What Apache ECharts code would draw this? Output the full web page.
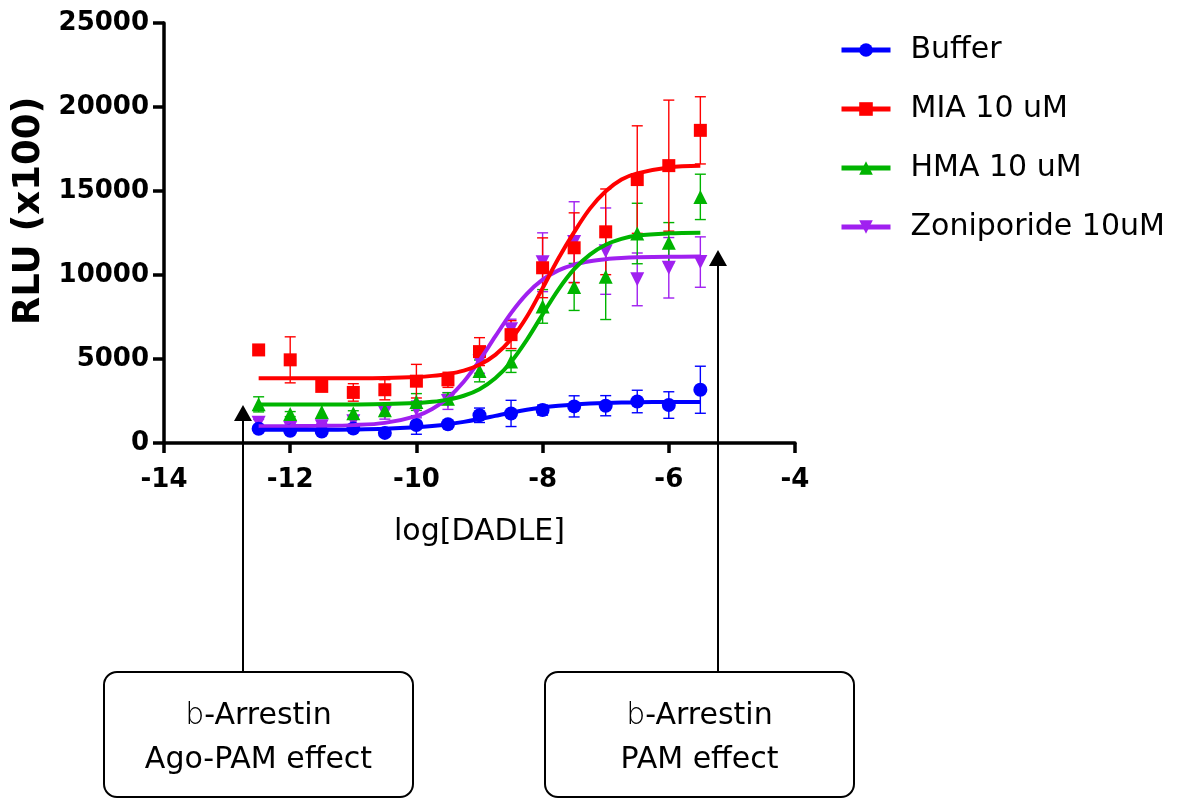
<!DOCTYPE html>
<html>
<head>
<meta charset="utf-8">
<script src="https://cdn.jsdelivr.net/npm/echarts@6/dist/echarts.min.js"></script>
<style>
  html, body { margin: 0; padding: 0; background: #ffffff; }
  #chart { width: 1177px; height: 804px; }
</style>
</head>
<body>
<div id="chart"></div>
<script>
// log[DADLE] doses (M) at which responses were measured
const logDose = [-12.5, -12, -11.5, -11, -10.5, -10, -9.5, -9, -8.5, -8, -7.5, -7, -6.5, -6, -5.5];

// Mean RLU (x100) and SEM per condition
const bufferMean = [850, 730, 680, 860, 600, 1070, 1120, 1650, 1760, 1960, 2180, 2220, 2470, 2260, 3170];
const bufferSem  = [120, 100, 100, 120, 100, 550, 150, 430, 780, 300, 630, 600, 670, 790, 1400];
const miaMean    = [5540, 4950, 3370, 3010, 3170, 3680, 3760, 5440, 6450, 10430, 11620, 12570, 15680, 16510, 18610];
const miaSem     = [150, 1370, 250, 520, 600, 1000, 450, 830, 830, 1780, 2080, 2550, 3200, 3900, 2000];
const hmaMean    = [2300, 1720, 1850, 1770, 1950, 2440, 2640, 4290, 4850, 8130, 9290, 9900, 12470, 11920, 14650];
const hmaSem     = [450, 150, 400, 150, 300, 500, 350, 650, 650, 1000, 1400, 2550, 1800, 1200, 1350];
const zoniMean   = [1200, 900, 1000, 1300, 1820, 2000, 2500, 4850, 6770, 10760, 11960, 11420, 9740, 10430, 10770];
const zoniSem    = [200, 150, 150, 200, 400, 500, 500, 700, 600, 1750, 2400, 2570, 1570, 1800, 1500];

// Dose-response fit curves, sampled along the dose axis
const fitDose   = [-12.5, -12, -11.5, -11, -10.5, -10, -9.75, -9.5, -9.25, -9, -8.75, -8.5, -8.25, -8, -7.75, -7.5, -7.25, -7, -6.75, -6.5, -6, -5.5];
const bufferFit = [782, 784, 790, 806, 844, 932, 1009, 1115, 1256, 1426, 1615, 1804, 1974, 2115, 2222, 2298, 2351, 2386, 2409, 2424, 2440, 2445];
const miaFit    = [3850, 3850, 3851, 3855, 3875, 3931, 3995, 4110, 4312, 4662, 5248, 6171, 7511, 9218, 10980, 12550, 13950, 14980, 15680, 16050, 16400, 16500];
const hmaFit    = [2290, 2290, 2291, 2296, 2317, 2379, 2451, 2582, 2812, 3204, 3851, 4825, 6140, 7657, 9135, 10347, 11210, 11800, 12150, 12350, 12480, 12520];
const zoniFit   = [1000, 1006, 1020, 1064, 1198, 1601, 2019, 2680, 3645, 4907, 6341, 7733, 8878, 9720, 10274, 10619, 10823, 10942, 11011, 11050, 11084, 11095];

// Axis ticks
const xTicks = { min: -14, max: -4, interval: 2 };
const yTicks = { min: 0, max: 25000, interval: 5000 };

const seriesNames = ['Buffer', 'MIA 10 uM', 'HMA 10 uM', 'Zoniporide 10uM'];
const FONT = 'DejaVu Sans';
const DOWN_TRIANGLE = 'path://M0,0 L10,0 L5,9 Z';

const groups = [
  { name: seriesNames[0], color: '#0000FF', symbol: 'circle', size: 14, mean: bufferMean, sem: bufferSem, fit: bufferFit },
  { name: seriesNames[1], color: '#FF0000', symbol: 'rect', size: 13, mean: miaMean, sem: miaSem, fit: miaFit },
  { name: seriesNames[2], color: '#00B400', symbol: 'triangle', size: 14, mean: hmaMean, sem: hmaSem, fit: hmaFit },
  { name: seriesNames[3], color: '#A020F0', symbol: DOWN_TRIANGLE, size: 14, mean: zoniMean, sem: zoniSem, fit: zoniFit }
];

function errorBarRenderer(color) {
  return function (params, api) {
    const x = api.value(0);
    const top = api.coord([x, api.value(2)]);
    const bot = api.coord([x, api.value(1)]);
    const hw = 5.5;
    const style = { stroke: color, lineWidth: 1.4 };
    return {
      type: 'group',
      children: [
        { type: 'line', shape: { x1: top[0], y1: top[1], x2: bot[0], y2: bot[1] }, style: style },
        { type: 'line', shape: { x1: top[0] - hw, y1: top[1], x2: top[0] + hw, y2: top[1] }, style: style },
        { type: 'line', shape: { x1: bot[0] - hw, y1: bot[1], x2: bot[0] + hw, y2: bot[1] }, style: style }
      ]
    };
  };
}

// Draw the first condition on top: build series from last to first
const series = [];
groups.slice().reverse().forEach(function (g) {
  series.push({
    name: g.name,
    type: 'line',
    data: fitDose.map(function (d, i) { return [d, g.fit[i]]; }),
    smooth: 0.35,
    symbol: g.symbol,
    symbolSize: g.size,
    showSymbol: false,
    itemStyle: { color: g.color },
    lineStyle: { color: g.color, width: 4 },
    emphasis: { disabled: true },
    silent: true,
    animation: false
  });
  series.push({
    name: g.name,
    type: 'custom',
    renderItem: errorBarRenderer(g.color),
    data: logDose.map(function (d, i) { return [d, g.mean[i] - g.sem[i], g.mean[i] + g.sem[i]]; }),
    encode: { x: 0, y: [1, 2] },
    silent: true,
    animation: false
  });
  series.push({
    name: g.name,
    type: 'scatter',
    data: logDose.map(function (d, i) { return [d, g.mean[i]]; }),
    symbol: g.symbol,
    symbolSize: g.size,
    itemStyle: { color: g.color, opacity: 1 },
    emphasis: { disabled: true },
    silent: true,
    animation: false
  });
});

// Callout boxes with arrows below the plot
function calloutBox(left, top, width, height, lines) {
  return {
    type: 'group',
    children: [
      { type: 'rect', shape: { x: left, y: top, width: width, height: height, r: 13 },
        style: { fill: '#ffffff', stroke: '#000000', lineWidth: 2 } },
      { type: 'text', x: left + width / 2, y: top + 44,
        style: { text: '{thin|b}-Arrestin', align: 'center', verticalAlign: 'middle',
          font: '30px "' + FONT + '"', fill: '#000000',
          rich: { thin: { fontFamily: FONT, fontSize: 30, fontWeight: 200, fill: '#000000' } } } },
      { type: 'text', x: left + width / 2, y: top + 88,
        style: { text: lines, align: 'center', verticalAlign: 'middle',
          font: '30px "' + FONT + '"', fill: '#000000' } }
    ]
  };
}
function upArrow(x, yBottom, yTip) {
  return {
    type: 'group',
    children: [
      { type: 'line', shape: { x1: x, y1: yBottom, x2: x, y2: yTip + 14 },
        style: { stroke: '#000000', lineWidth: 2 } },
      { type: 'polygon', shape: { points: [[x, yTip], [x - 9, yTip + 16], [x + 9, yTip + 16]] },
        style: { fill: '#000000' } }
    ]
  };
}

const chart = echarts.init(document.getElementById('chart'), null, { renderer: 'canvas' });
chart.setOption({
  animation: false,
  backgroundColor: '#ffffff',
  textStyle: { fontFamily: FONT },
  grid: { left: 164, right: 382, top: 23, bottom: 361, containLabel: false, outerBoundsMode: 'none' },
  legend: {
    data: seriesNames,
    orient: 'vertical',
    left: 839,
    top: 35,
    padding: 0,
    itemWidth: 49,
    itemHeight: 17,
    itemGap: 29,
    selectedMode: false,
    lineStyle: { width: 5 },
    textStyle: { fontFamily: FONT, fontSize: 30, color: '#000000', lineHeight: 30, padding: [0, 0, 0, 15] }
  },
  xAxis: {
    type: 'value',
    min: xTicks.min,
    max: xTicks.max,
    interval: xTicks.interval,
    name: 'log[DADLE]',
    nameLocation: 'middle',
    nameGap: 74,
    nameTextStyle: { fontFamily: FONT, fontSize: 30, color: '#000000' },
    axisLine: { lineStyle: { color: '#000000', width: 3.5 } },
    axisTick: { show: true, inside: false, length: 10, lineStyle: { color: '#000000', width: 3.5 } },
    axisLabel: { fontFamily: FONT, fontWeight: 'bold', fontSize: 26, color: '#000000', margin: 24 },
    splitLine: { show: false }
  },
  yAxis: {
    type: 'value',
    min: yTicks.min,
    max: yTicks.max,
    interval: yTicks.interval,
    name: 'RLU (x100)',
    nameLocation: 'middle',
    nameRotate: 90,
    nameGap: 113,
    nameTextStyle: { fontFamily: FONT, fontWeight: 'bold', fontSize: 37, color: '#000000', padding: [0, 0, 0, 44] },
    axisLine: { show: true, lineStyle: { color: '#000000', width: 3.5 } },
    axisTick: { show: true, inside: false, length: 11, lineStyle: { color: '#000000', width: 3.5 } },
    axisLabel: {
      fontFamily: FONT, fontWeight: 'bold', fontSize: 26, color: '#000000', margin: 15,
      formatter: function (v) { return String(v); }
    },
    splitLine: { show: false }
  },
  series: series,
  graphic: [
    upArrow(243, 672, 405),
    upArrow(718, 672, 250),
    calloutBox(104, 672, 309, 125, 'Ago-PAM effect'),
    calloutBox(545, 672, 309, 125, 'PAM effect')
  ]
});
</script>
</body>
</html>
